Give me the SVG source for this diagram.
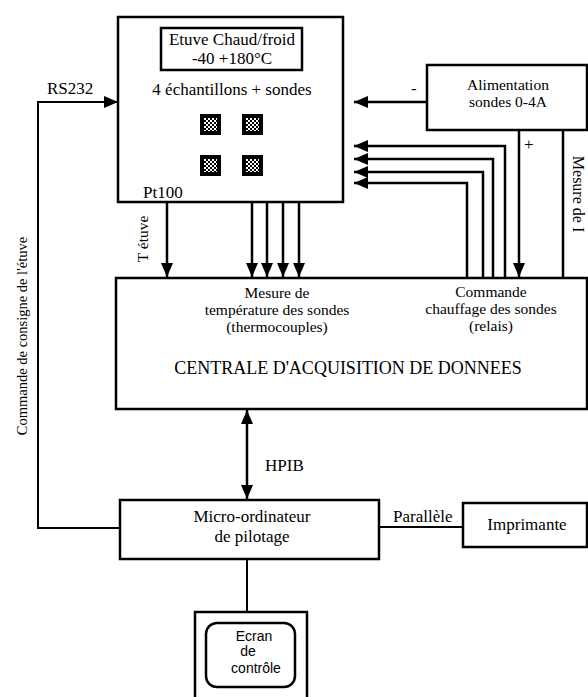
<svg xmlns="http://www.w3.org/2000/svg" width="588" height="697" viewBox="0 0 588 697">
<style>
  .box{fill:#fff;stroke:#000;stroke-width:2.5}
  .ln{fill:none;stroke:#000;stroke-width:2.5}
  .thin{fill:none;stroke:#000;stroke-width:2}
  text{font-family:"Liberation Serif","Times New Roman",serif;font-size:17px;fill:#000}
  .c{text-anchor:middle}
  .m{font-size:15.5px}
  .sans{font-family:"Liberation Sans",Arial,sans-serif;font-size:14px}
</style>
<defs>
  <marker id="ah" viewBox="0 0 14 12" refX="14" refY="6" markerWidth="14" markerHeight="12" markerUnits="userSpaceOnUse" orient="auto-start-reverse">
    <path d="M0,0 L14,6 L0,12 Z" fill="#000"/>
  </marker>
  <pattern id="chk" width="4" height="4" patternUnits="userSpaceOnUse">
    <rect width="4" height="4" fill="#000"/>
    <rect width="2" height="2" fill="#fff"/>
    <rect x="2" y="2" width="2" height="2" fill="#fff"/>
  </pattern>
  <g id="sq">
    <rect width="21" height="21" fill="#000"/>
    <rect x="4" y="4" width="13" height="13" fill="url(#chk)"/>
  </g>
</defs>

<g id="connectors">
  <polyline class="thin" points="120,528 38,528 38,102 118,102" marker-end="url(#ah)"/>
  <line class="ln" x1="167" y1="202" x2="167" y2="277" marker-end="url(#ah)"/>
  <line class="ln" x1="252" y1="202" x2="252" y2="277" marker-end="url(#ah)"/>
  <line class="ln" x1="267" y1="202" x2="267" y2="277" marker-end="url(#ah)"/>
  <line class="ln" x1="283" y1="202" x2="283" y2="277" marker-end="url(#ah)"/>
  <line class="ln" x1="299" y1="202" x2="299" y2="277" marker-end="url(#ah)"/>
  <line class="ln" x1="427" y1="102" x2="354" y2="102" marker-end="url(#ah)"/>
  <polyline class="ln" points="505,278 505,146 354,146" marker-end="url(#ah)"/>
  <polyline class="ln" points="493,278 493,159 354,159" marker-end="url(#ah)"/>
  <polyline class="ln" points="483,278 483,172 354,172" marker-end="url(#ah)"/>
  <polyline class="ln" points="467,278 467,183 354,183" marker-end="url(#ah)"/>
  <line class="ln" x1="519" y1="130" x2="519" y2="277" marker-end="url(#ah)"/>
  <line class="ln" x1="563" y1="130" x2="563" y2="278"/>
  <line class="ln" x1="247" y1="410" x2="247" y2="499" marker-start="url(#ah)" marker-end="url(#ah)"/>
  <line class="thin" x1="379" y1="527" x2="463" y2="527"/>
  <line class="thin" x1="247" y1="559" x2="247" y2="612"/>
</g>

<g id="etuve">
  <rect class="box" x="118" y="17" width="225" height="185"/>
  <rect class="box" x="161" y="28" width="141" height="42"/>
  <text class="c" x="232" y="45">Etuve Chaud/froid</text>
  <text class="c" x="232" y="64">-40 +180°C</text>
  <text class="c" x="232" y="95">4 échantillons + sondes</text>
  <use href="#sq" x="200" y="114"/>
  <use href="#sq" x="242" y="114"/>
  <use href="#sq" x="200" y="155"/>
  <use href="#sq" x="242" y="155"/>
  <text x="143" y="198">Pt100</text>
</g>

<g id="alimentation">
  <rect class="box" x="427" y="65" width="160" height="65"/>
  <text class="c m" x="508" y="90">Alimentation</text>
  <text class="c m" x="508" y="107">sondes 0-4A</text>
</g>

<g id="centrale">
  <rect class="box" x="116" y="278" width="471" height="131"/>
  <text class="c m" x="277" y="298">Mesure de</text>
  <text class="c m" x="277" y="315">température des sondes</text>
  <text class="c m" x="277" y="332">(thermocouples)</text>
  <text class="c m" x="491" y="297">Commande</text>
  <text class="c m" x="491" y="314">chauffage des sondes</text>
  <text class="c m" x="491" y="331">(relais)</text>
  <text class="c" x="348" y="374" style="font-size:18px">CENTRALE D'ACQUISITION DE DONNEES</text>
</g>

<g id="micro">
  <rect class="box" x="120" y="500" width="259" height="59"/>
  <text class="c" x="252" y="522">Micro-ordinateur</text>
  <text class="c" x="252" y="542">de pilotage</text>
</g>

<g id="imprimante">
  <rect class="box" x="463" y="503" width="124" height="44"/>
  <text class="c" x="527" y="530">Imprimante</text>
</g>

<g id="ecran">
  <rect class="box" x="195" y="612" width="112" height="90"/>
  <rect class="box" x="206" y="623" width="89" height="64" rx="11" ry="11"/>
  <text class="c sans" x="254" y="641">Ecran</text>
  <text class="c sans" x="248" y="656">de</text>
  <text class="c sans" x="256" y="673">contrôle</text>
</g>

<g id="labels">
  <text x="47" y="94">RS232</text>
  <text x="411" y="94">-</text>
  <text x="524" y="150">+</text>
  <text x="265" y="471">HPIB</text>
  <text x="393" y="522">Parallèle</text>
  <text class="c" transform="translate(573,194) rotate(90)" style="font-size:16px">Mesure de I</text>
  <text class="c" transform="translate(148,239) rotate(-90)" style="font-size:15.5px">T étuve</text>
  <text class="c" transform="translate(27,336) rotate(-90)" style="font-size:14.5px">Commande de consigne de l'étuve</text>
</g>
</svg>
